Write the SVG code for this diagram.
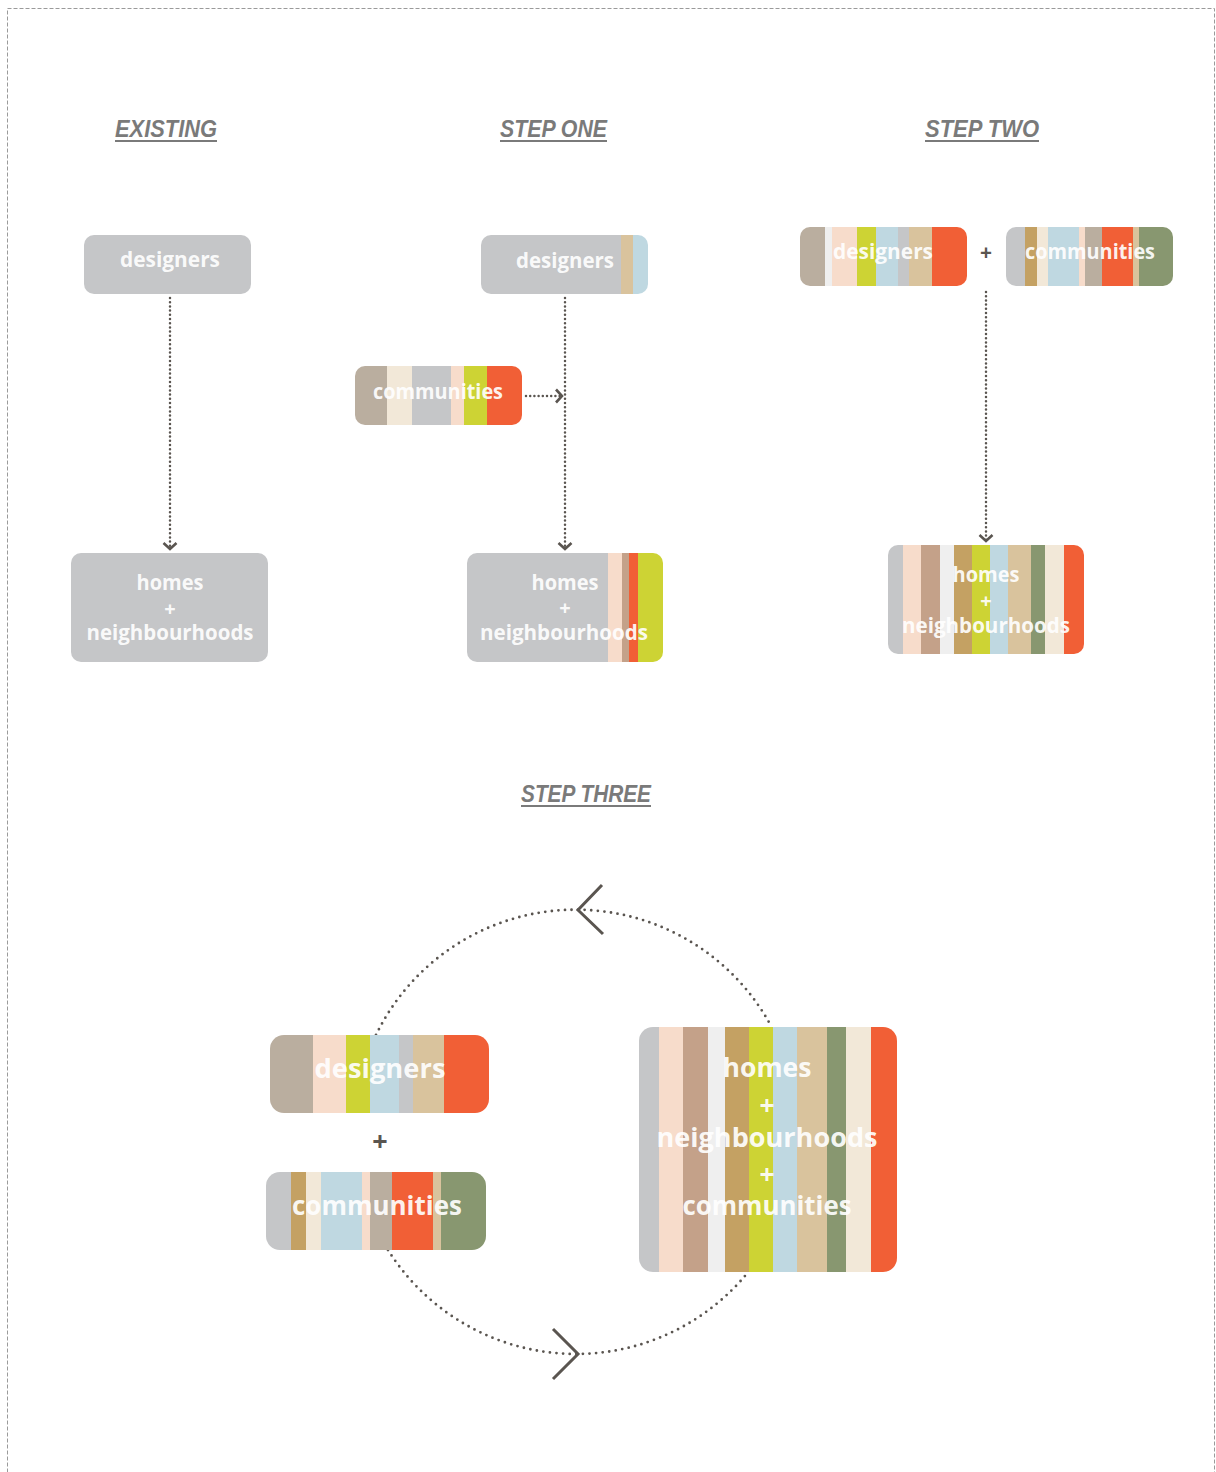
<svg xmlns="http://www.w3.org/2000/svg" width="1216" height="1472" viewBox="0 0 1216 1472">
<style>
.G{fill:#c5c6c8}.T{fill:#baae9f}.P{fill:#f7dccb}.C{fill:#f2e8d8}.L{fill:#cdd334}.O{fill:#f15f36}
.B{fill:#bfd8e1}.N{fill:#d9c39d}.A{fill:#c4a163}.M{fill:#c4a189}.W{fill:#efefef}.R{fill:#889770}
.title{font-family:"Liberation Sans",Arial,sans-serif;font-weight:700;font-style:italic;font-size:23px;fill:#7a7a7a}
.ul{stroke:#7a7a7a;stroke-width:2}
.t{font-family:"Open Sans","Liberation Sans",sans-serif;font-weight:700;fill:#ffffff;fill-opacity:0.93;text-anchor:middle}
.s{font-size:21px}.b{font-size:27.5px}.sp{font-size:20px}.bp{font-size:26px}
.plus{font-family:"Open Sans","Liberation Sans",sans-serif;font-weight:700;fill:#5a5550;text-anchor:middle}
.dot{fill:none;stroke:#5a5550;stroke-width:2.5;stroke-dasharray:0 4.2;stroke-linecap:round}
.bigdot{fill:none;stroke:#5a5550;stroke-width:2.8;stroke-dasharray:0 6.6;stroke-linecap:round}
.chev{fill:none;stroke:#5a5550;stroke-width:3}
</style>
<defs>
<marker id="arr" viewBox="-8 -8 10 16" refX="0" refY="0" markerWidth="10" markerHeight="16" markerUnits="userSpaceOnUse" orient="auto">
<path d="M-6,-6.5 L0,0 L-6,6.5" fill="none" stroke="#5a5550" stroke-width="2.6" stroke-dasharray="none"/>
</marker>
<clipPath id="c1"><rect x="481" y="235" width="167" height="59" rx="10"/></clipPath>
<clipPath id="c2"><rect x="355" y="366" width="167" height="59" rx="10"/></clipPath>
<clipPath id="c3"><rect x="467" y="553" width="196" height="109" rx="10"/></clipPath>
<clipPath id="c4"><rect x="800" y="227" width="167" height="59" rx="10"/></clipPath>
<clipPath id="c5"><rect x="1006" y="227" width="167" height="59" rx="10"/></clipPath>
<clipPath id="c6"><rect x="888" y="545" width="196" height="109" rx="10"/></clipPath>
<clipPath id="c7"><rect x="270" y="1035" width="219" height="78" rx="14"/></clipPath>
<clipPath id="c8"><rect x="266" y="1172" width="220" height="78" rx="14"/></clipPath>
<clipPath id="c9"><rect x="639" y="1027" width="258" height="245" rx="14"/></clipPath>
</defs>

<rect x="7.5" y="8.5" width="1207" height="1475" fill="none" stroke="#9a9a9a" stroke-width="1" stroke-dasharray="4 2"/>

<g id="titles">
<text class="title" x="115" y="137" textLength="102" lengthAdjust="spacingAndGlyphs">EXISTING</text>
<line class="ul" x1="115" y1="141" x2="217" y2="141"/>
<text class="title" x="500" y="137" textLength="107" lengthAdjust="spacingAndGlyphs">STEP ONE</text>
<line class="ul" x1="500" y1="141" x2="607" y2="141"/>
<text class="title" x="925" y="137" textLength="114" lengthAdjust="spacingAndGlyphs">STEP TWO</text>
<line class="ul" x1="925" y1="141" x2="1039" y2="141"/>
<text class="title" x="521" y="802" textLength="130" lengthAdjust="spacingAndGlyphs">STEP THREE</text>
<line class="ul" x1="521" y1="806" x2="651" y2="806"/>
</g>

<g id="connectors">
<path class="dot" d="M170,298 L170,549" marker-end="url(#arr)"/>
<path class="dot" d="M565,298 L565,549" marker-end="url(#arr)"/>
<path class="dot" d="M526,396 L562,396" marker-end="url(#arr)"/>
<path class="dot" d="M986,292 L986,541" marker-end="url(#arr)"/>
<path class="bigdot" d="M376,1035 A222,222 0 0,1 771.6,1027"/>
<path class="bigdot" d="M388,1250 A222,222 0 0,0 748.3,1272"/>
<path class="chev" d="M602,885 L578,910 L603,934"/>
<path class="chev" d="M553,1329 L578,1354 L553,1379"/>
</g>

<g id="ex-designers">
<rect class="G" x="84" y="235" width="167" height="59" rx="10"/>
<text class="t s" x="170" y="267" textLength="100" lengthAdjust="spacingAndGlyphs">designers</text>
</g>
<g id="ex-homes">
<rect class="G" x="71" y="553" width="197" height="109" rx="10"/>
<text class="t s" x="170" y="590" textLength="67" lengthAdjust="spacingAndGlyphs">homes</text>
<text class="t sp" x="170" y="616">+</text>
<text class="t s" x="170" y="640" textLength="167" lengthAdjust="spacingAndGlyphs">neighbourhoods</text>
</g>

<g id="s1-designers">
<g clip-path="url(#c1)">
<rect class="G" x="481" y="235" width="140" height="59"/>
<rect class="N" x="621" y="235" width="12" height="59"/>
<rect class="B" x="633" y="235" width="15" height="59"/>
</g>
<text class="t s" x="565" y="268" textLength="98" lengthAdjust="spacingAndGlyphs">designers</text>
</g>
<g id="s1-communities">
<g clip-path="url(#c2)">
<rect class="T" x="355" y="366" width="32" height="59"/>
<rect class="C" x="387" y="366" width="25" height="59"/>
<rect class="G" x="412" y="366" width="39" height="59"/>
<rect class="P" x="451" y="366" width="13" height="59"/>
<rect class="L" x="464" y="366" width="23" height="59"/>
<rect class="O" x="487" y="366" width="35" height="59"/>
</g>
<text class="t s" x="438" y="399" textLength="130" lengthAdjust="spacingAndGlyphs">communities</text>
</g>
<g id="s1-homes">
<g clip-path="url(#c3)">
<rect class="G" x="467" y="553" width="141" height="109"/>
<rect class="P" x="608" y="553" width="14" height="109"/>
<rect class="M" x="622" y="553" width="7" height="109"/>
<rect class="O" x="629" y="553" width="9" height="109"/>
<rect class="L" x="638" y="553" width="25" height="109"/>
</g>
<text class="t s" x="565" y="590" textLength="67" lengthAdjust="spacingAndGlyphs">homes</text>
<text class="t sp" x="565" y="615">+</text>
<text class="t s" x="564" y="640" textLength="168" lengthAdjust="spacingAndGlyphs">neighbourhoods</text>
</g>

<g id="s2-designers">
<g clip-path="url(#c4)">
<rect class="T" x="800" y="227" width="25" height="59"/>
<rect class="W" x="825" y="227" width="7" height="59"/>
<rect class="P" x="832" y="227" width="25" height="59"/>
<rect class="L" x="857" y="227" width="19" height="59"/>
<rect class="B" x="876" y="227" width="22" height="59"/>
<rect class="G" x="898" y="227" width="11" height="59"/>
<rect class="N" x="909" y="227" width="23" height="59"/>
<rect class="O" x="932" y="227" width="35" height="59"/>
</g>
<text class="t s" x="883" y="259" textLength="100" lengthAdjust="spacingAndGlyphs">designers</text>
</g>
<text class="plus" x="986" y="260" font-size="21">+</text>
<g id="s2-communities">
<g clip-path="url(#c5)">
<rect class="G" x="1006" y="227" width="19" height="59"/>
<rect class="A" x="1025" y="227" width="12" height="59"/>
<rect class="C" x="1037" y="227" width="11" height="59"/>
<rect class="B" x="1048" y="227" width="31" height="59"/>
<rect class="P" x="1079" y="227" width="6" height="59"/>
<rect class="T" x="1085" y="227" width="17" height="59"/>
<rect class="O" x="1102" y="227" width="31" height="59"/>
<rect class="N" x="1133" y="227" width="6" height="59"/>
<rect class="R" x="1139" y="227" width="34" height="59"/>
</g>
<text class="t s" x="1090" y="259" textLength="130" lengthAdjust="spacingAndGlyphs">communities</text>
</g>
<g id="s2-homes">
<g clip-path="url(#c6)">
<rect class="G" x="888" y="545" width="15" height="109"/>
<rect class="P" x="903" y="545" width="18" height="109"/>
<rect class="M" x="921" y="545" width="19" height="109"/>
<rect class="W" x="940" y="545" width="14" height="109"/>
<rect class="A" x="954" y="545" width="18" height="109"/>
<rect class="L" x="972" y="545" width="18" height="109"/>
<rect class="B" x="990" y="545" width="18" height="109"/>
<rect class="N" x="1008" y="545" width="23" height="109"/>
<rect class="R" x="1031" y="545" width="14" height="109"/>
<rect class="C" x="1045" y="545" width="19" height="109"/>
<rect class="O" x="1064" y="545" width="20" height="109"/>
</g>
<text class="t s" x="986" y="582" textLength="67" lengthAdjust="spacingAndGlyphs">homes</text>
<text class="t sp" x="986" y="608">+</text>
<text class="t s" x="986" y="633" textLength="168" lengthAdjust="spacingAndGlyphs">neighbourhoods</text>
</g>

<g id="s3-designers">
<g clip-path="url(#c7)">
<rect class="T" x="270" y="1035" width="43" height="78"/>
<rect class="P" x="313" y="1035" width="33" height="78"/>
<rect class="L" x="346" y="1035" width="24" height="78"/>
<rect class="B" x="370" y="1035" width="29" height="78"/>
<rect class="G" x="399" y="1035" width="14" height="78"/>
<rect class="N" x="413" y="1035" width="31" height="78"/>
<rect class="O" x="444" y="1035" width="45" height="78"/>
</g>
<text class="t b" x="380" y="1078" textLength="131" lengthAdjust="spacingAndGlyphs">designers</text>
</g>
<text class="plus" x="380" y="1151" font-size="27">+</text>
<g id="s3-communities">
<g clip-path="url(#c8)">
<rect class="G" x="266" y="1172" width="25" height="78"/>
<rect class="A" x="291" y="1172" width="15" height="78"/>
<rect class="C" x="306" y="1172" width="15" height="78"/>
<rect class="B" x="321" y="1172" width="41" height="78"/>
<rect class="P" x="362" y="1172" width="8" height="78"/>
<rect class="T" x="370" y="1172" width="22" height="78"/>
<rect class="O" x="392" y="1172" width="41" height="78"/>
<rect class="N" x="433" y="1172" width="8" height="78"/>
<rect class="R" x="441" y="1172" width="45" height="78"/>
</g>
<text class="t b" x="377" y="1215" textLength="170" lengthAdjust="spacingAndGlyphs">communities</text>
</g>
<g id="s3-homes">
<g clip-path="url(#c9)">
<rect class="G" x="639" y="1027" width="20" height="245"/>
<rect class="P" x="659" y="1027" width="24" height="245"/>
<rect class="M" x="683" y="1027" width="25" height="245"/>
<rect class="W" x="708" y="1027" width="17" height="245"/>
<rect class="A" x="725" y="1027" width="24" height="245"/>
<rect class="L" x="749" y="1027" width="24" height="245"/>
<rect class="B" x="773" y="1027" width="24" height="245"/>
<rect class="N" x="797" y="1027" width="30" height="245"/>
<rect class="R" x="827" y="1027" width="19" height="245"/>
<rect class="C" x="846" y="1027" width="25" height="245"/>
<rect class="O" x="871" y="1027" width="26" height="245"/>
</g>
<text class="t b" x="767" y="1077" textLength="89" lengthAdjust="spacingAndGlyphs">homes</text>
<text class="t bp" x="767" y="1115">+</text>
<text class="t b" x="767" y="1147" textLength="221" lengthAdjust="spacingAndGlyphs">neighbourhoods</text>
<text class="t bp" x="767" y="1184">+</text>
<text class="t b" x="767" y="1215" textLength="169" lengthAdjust="spacingAndGlyphs">communities</text>
</g>
</svg>
